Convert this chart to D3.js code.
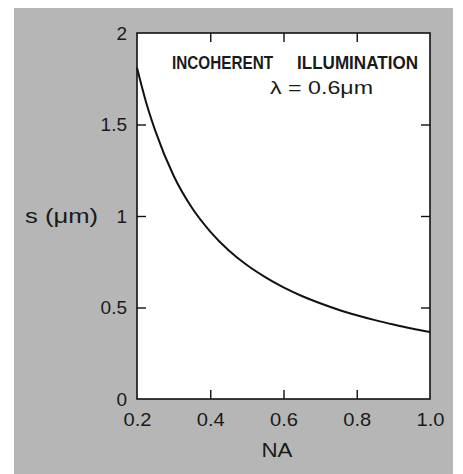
<!DOCTYPE html>
<html><head><meta charset="utf-8">
<script src="https://cdn.jsdelivr.net/npm/d3@7"></script>
<style>
html,body{margin:0;padding:0;background:#fff;}
svg{display:block;}
text{font-family:"Liberation Sans","DejaVu Sans",sans-serif;fill:#1a1a1a;}
</style></head>
<body>
<script>
// Data
const naValues = [0.2, 0.225, 0.25, 0.3, 0.35, 0.4, 0.45, 0.5, 0.55, 0.6, 0.65, 0.7, 0.75, 0.8, 0.85, 0.9, 0.95, 1.0];
const sValues  = [1.81, 1.62, 1.465, 1.22, 1.045, 0.915, 0.813, 0.732, 0.666, 0.61, 0.563, 0.523, 0.488, 0.458, 0.431, 0.407, 0.385, 0.366];
const xTicks = [0.2, 0.4, 0.6, 0.8, 1.0];
const xTickLabels = ["0.2", "0.4", "0.6", "0.8", "1.0"];
const yTicks = [0, 0.5, 1, 1.5, 2];
const yTickLabels = ["0", "0.5", "1", "1.5", "2"];

const W = 463, H = 474;
const m = {left:137, right:W-430, top:33, bottom:H-399};
const svg = d3.select("body").append("svg").attr("width", W).attr("height", H);

svg.append("rect").attr("x",14).attr("y",8).attr("width",439).attr("height",H-8).attr("fill","#b6b6b6");

const x = d3.scaleLinear().domain([0.2, 1.0]).range([m.left, W - m.right]);
const y = d3.scaleLinear().domain([0, 2]).range([H - m.bottom, m.top]);

svg.append("rect").attr("x", x(0.2)).attr("y", y(2))
  .attr("width", x(1.0) - x(0.2)).attr("height", y(0) - y(2))
  .attr("fill", "#fff").attr("stroke", "#111").attr("stroke-width", 1.6);

const tickLen = 9;
const gx = svg.append("g").attr("transform", `translate(0,${y(0)})`)
  .call(d3.axisBottom(x).tickValues(xTicks).tickSize(-tickLen).tickPadding(14)
    .tickFormat((d,i) => xTickLabels[i]));
const gxt = svg.append("g").attr("transform", `translate(0,${y(2)})`)
  .call(d3.axisTop(x).tickValues(xTicks.slice(1,-1)).tickSize(-tickLen).tickFormat(""));
const gy = svg.append("g").attr("transform", `translate(${x(0.2)},0)`)
  .call(d3.axisLeft(y).tickValues(yTicks).tickSize(-tickLen).tickPadding(10)
    .tickFormat((d,i) => yTickLabels[i]));
const gyr = svg.append("g").attr("transform", `translate(${x(1.0)},0)`)
  .call(d3.axisRight(y).tickValues(yTicks.slice(1,-1)).tickSize(-tickLen).tickFormat(""));

[gx, gxt, gy, gyr].forEach(g => {
  g.select(".domain").remove();
  g.attr("font-size", null);
  g.selectAll(".tick line").attr("stroke", "#111").attr("stroke-width", 1.4);
  g.selectAll(".tick text").attr("font-size", 19).attr("fill", "#1a1a1a")
    .style("font-family", '"Liberation Sans","DejaVu Sans",sans-serif');
});
gx.selectAll(".tick text").attr("textLength", 28).attr("lengthAdjust", "spacingAndGlyphs");
gx.selectAll(".tick line").filter(d => d === 0.2 || d === 1.0).remove();
gy.selectAll(".tick line").filter(d => d === 0 || d === 2).remove();

const line = d3.line().x((d,i) => x(naValues[i])).y(d => y(d)).curve(d3.curveMonotoneX);
svg.append("path").datum(sValues).attr("d", line)
  .attr("fill", "none").attr("stroke", "#111").attr("stroke-width", 2);

svg.append("text").attr("x", 277).attr("y", 457).attr("text-anchor", "middle")
  .attr("font-size", 20).attr("textLength", 31).attr("lengthAdjust", "spacingAndGlyphs").text("NA");
svg.append("text").attr("x", 25).attr("y", 223).attr("font-size", 20)
  .attr("textLength", 73).attr("lengthAdjust", "spacingAndGlyphs").text("s (μm)");

svg.append("text").attr("x", 172).attr("y", 69).attr("font-size", 18).attr("font-weight", 600)
  .attr("textLength", 101).attr("lengthAdjust", "spacingAndGlyphs").text("INCOHERENT");
svg.append("text").attr("x", 297).attr("y", 69).attr("font-size", 18).attr("font-weight", 600)
  .attr("textLength", 121).attr("lengthAdjust", "spacingAndGlyphs").text("ILLUMINATION");
svg.append("text").attr("x", 270).attr("y", 94).attr("font-size", 18)
  .attr("textLength", 103).attr("lengthAdjust", "spacingAndGlyphs").text("λ = 0.6μm");
</script>
</body></html>
